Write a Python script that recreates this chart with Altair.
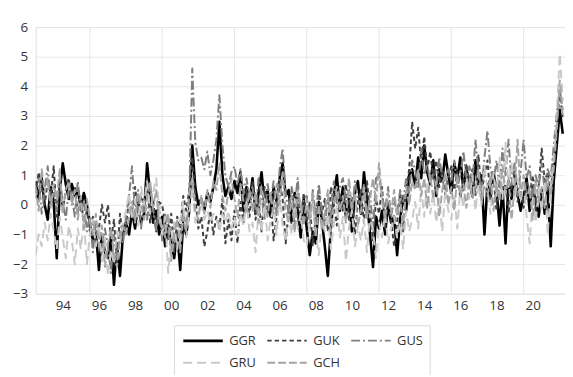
import altair as alt
import pandas as pd

series_names = ["GGR", "GUK", "GUS", "GRU", "GCH"]
series_colors = ["#000000", "#404040", "#7f7f7f", "#c9c9c9", "#a5a5a5"]
series_dashes = [[1, 0], [4.5, 3], [9, 3, 2, 3], [9, 5], [8, 3]]
series_widths = [2.6, 2, 2, 2, 2]

# bi-monthly readings, 1993.0 .. 2022.17 (6 per year)
GGR = [
    0.8, 0.2, 0.9, 0.0, -0.5, 0.6,
    0.1, -1.8, 0.5, 1.4, 0.7, 0.2,
    0.7, 0.3, 0.5, -0.1, 0.4, 0.0,
    -0.6, -1.2, -0.9, -2.2, -1.0, -1.6,
    -1.8, -1.1, -2.7, -1.3, -2.4, -1.0,
    -0.6, -1.0, -0.2, -0.8, 0.0, -0.6,
    -0.3, 1.4, 0.4, -0.6, -0.2, -1.0,
    -0.4, -1.4, -0.7, -1.3, -1.8, -0.9,
    -2.2, -0.6, -1.0, -0.2, 2.0, 0.6,
    0.0, 0.2, -0.2, 0.4, 0.1, 0.6,
    1.2, 2.8, 1.0, 0.3, 0.6, 0.2,
    0.8, 0.4, 1.1, -0.2, 0.6, 0.1,
    0.9, -0.3, 0.4, 1.1, 0.0, 0.5,
    -0.4, 0.6, 0.1, 0.9, 1.4, 0.3,
    0.5, -0.6, 0.4, -0.2, -1.1, 0.2,
    -0.8, -1.7, -0.9, -1.3, 0.1, -0.5,
    -1.4, -2.4, -0.8, 0.3, 1.0, -0.2,
    0.6, -0.4, 0.2, -0.9, 0.4, 0.8,
    -0.3, 1.1, 0.2, -1.0, -2.1, -0.4,
    -0.8, -0.2, -1.0, 0.0, -0.6, -0.4,
    -1.7, -0.5, 0.3, -0.2, 1.0, 1.2,
    0.6, 1.6, 0.9, 2.0, 1.1, 0.7,
    1.5, 0.3, 1.2, 0.8, 1.7, 1.0,
    0.4, 1.4, 0.9, 1.6, 0.5, 1.2,
    0.8, 0.3, 1.5, 0.6, 1.0, -1.0,
    0.7, 0.2, 1.1, 0.5, -0.7, 0.6,
    -1.3, 0.8, 0.2, 1.0, 0.4, -0.2,
    0.3, 0.9, -0.2, 0.6, 0.1, -0.4,
    0.5, -0.3, 0.6, -1.4, 0.8, 2.0,
    3.2, 2.4,
]
GUK = [
    0.4, 1.1, 0.6, 0.0, 0.8, 0.3,
    1.3, -0.4, 0.8, -0.2, 0.5, 0.9,
    0.1, 0.6, -0.3, 0.2, -0.6, -0.2,
    -0.9, -0.4, -1.4, -0.8, 0.0, -0.6,
    0.0, -1.2, -0.5, -2.0, -0.3, -1.1,
    -0.7, 0.2, -0.4, 0.6, -0.2, 0.3,
    0.0, 0.9, -0.6, 0.2, -0.9, 0.1,
    0.0, -0.6, -1.2, -0.3, -1.6, -0.4,
    -0.8, 0.3, -0.2, 0.5, 1.6, 0.3,
    -0.8, -0.4, -1.4, -0.9, -0.2, -1.0,
    -0.4, -0.8, 0.2, -1.3, -0.5, -1.2,
    -0.2, -1.3, 0.1, -0.6, 0.5, -0.4,
    0.8, -0.5, 0.2, -0.9, 0.6, -0.3,
    0.3, -1.2, -0.4, 0.8, 0.2, -1.3,
    -0.2, 0.5, -0.8, 0.3, -0.5, 0.4,
    -0.6, 0.1, -1.4, -0.4, 0.5, -0.3,
    0.2, -0.9, 0.6, 0.0, -0.7, 0.4,
    -0.2, 0.7, -0.5, 0.3, -1.0, 0.1,
    0.5, -0.6, 0.8, -0.3, -1.2, 0.2,
    -0.3, 0.6, -0.8, 0.1, -0.5, -1.4,
    -0.6, 0.4, -0.9, 0.5, 1.2, 2.8,
    1.9, 2.6, 1.4, 2.3, 1.2, 1.8,
    0.9, 1.5, 0.6, 1.2, 0.3, 0.9,
    1.3, 0.5, 1.1, 0.2, 0.8, 1.4,
    0.6, 1.2, 0.3, 1.7, 0.4, 1.0,
    1.5, 0.2, 0.9, -0.2, 0.8, 0.4,
    0.7, -0.3, 0.6, 1.2, 0.1, 0.5,
    -0.1, 0.8, 0.3, 1.0, -0.2, 0.6,
    1.9, 0.8, 1.1, 0.4, 1.6, 2.6,
    3.8, 2.9,
]
GUS = [
    0.2, 0.9, -0.3, 0.5, 1.3, 0.0,
    0.4, -0.2, 0.9, 0.1, -0.5, 0.6,
    0.3, -0.4, 0.8, -0.2, 0.1, -0.9,
    -0.4, -1.6, -0.6, -1.3, -1.7, -0.8,
    -1.4, -2.3, -1.0, -1.8, -0.9, -1.3,
    -0.4, 0.3, 1.3, -0.3, 0.5, -0.8,
    0.2, -0.5, 0.6, -0.2, -0.9, 0.0,
    -1.2, -0.3, -0.9, -1.6, -0.6, -1.4,
    -0.9, -0.2, -0.8, 0.3, 4.6, 2.1,
    1.5, 1.6, 1.2, 1.8, 1.0, 1.5,
    2.2, 3.7, 2.0, 1.0, 0.6, 1.1,
    1.3, 0.7, 1.2, 0.4, 0.9, 0.2,
    0.6, -0.2, 0.9, 0.3, -0.5, 0.7,
    0.1, 0.8, -0.4, 1.2, 1.9, 0.4,
    -0.3, 0.6, 0.0, 0.9, -0.6, 0.2,
    0.3, -0.8, 0.5, -0.4, 0.7, -0.2,
    -0.7, 0.2, -0.4, 0.8, 0.0, 0.6,
    0.9, 0.1, 0.5, -0.3, 0.8, 0.2,
    0.0, 0.7, -0.5, 0.4, -0.8, 0.9,
    1.0, 0.3, -0.2, 0.6, -0.4, 0.2,
    -0.3, 0.5, 0.1, 0.9, 0.4, 1.5,
    1.2, 0.6, 1.9, 1.0, 1.4, 0.7,
    1.1, 0.5, 1.6, 0.9, 0.4, 1.2,
    0.8, 1.5, 0.6, 1.0, 1.8, 0.9,
    1.3, 0.7, 2.2, 1.1, 0.5, 1.6,
    2.5, 1.2, 0.8, 1.5, 0.6, 1.9,
    1.0, 2.2, 0.7, 1.4, 0.3, 1.1,
    2.2, 0.9, 1.3, 0.2, 1.0, 0.6,
    1.4, 0.5, 1.2, 0.9, 2.0, 3.1,
    3.9, 3.2,
]
GRU = [
    -1.7, -1.0, -1.4, -0.6, -1.2, -0.3,
    -0.9, -1.5, -0.4, -1.1, -1.8, -0.7,
    -1.2, -2.0, -0.8, -1.5, -0.5, -2.0,
    -1.0, -0.5, -1.4, -0.7, -1.9, -1.1,
    -2.4, -1.5, -2.0, -0.9, -1.3, -0.6,
    -0.2, 0.4, -0.5, 0.2, -0.7, 0.6,
    0.0, 0.8, -0.3, 0.4, 0.9, -0.1,
    -1.0, -0.4, -2.3, -1.2, -0.6, -1.5,
    -0.5, 0.1, -1.1, -0.3, 0.6, -0.6,
    -0.3, 0.1, -0.5, -0.2, -0.6, -0.3,
    -0.4, -0.9, -0.3, -0.6, -0.2, -0.8,
    -0.4, -1.0, -0.3, -0.7, 0.1, -0.9,
    -0.6, -1.6, -0.2, -0.9, 0.2, -1.2,
    -0.5, -0.1, -1.0, 0.3, -0.7, -1.2,
    -0.4, -1.0, 0.2, -0.8, -0.3, -1.2,
    -1.4, -0.6, 0.1, -0.9, -1.7, -0.5,
    -0.9, -0.3, -1.5, -0.6, 0.0, -1.1,
    -0.4, -1.9, -0.8, -0.2, -1.4, -0.7,
    -1.2, -0.5, -1.6, -0.3, -0.9, -1.8,
    -0.6, -1.1, -0.3, -1.3, -0.8, -0.4,
    -1.1, -0.6, -1.5, -0.2, -0.9, -0.5,
    0.1, -0.8, 0.6, -0.4, 0.8, -0.3,
    0.4, -0.6, 0.2, -0.9, 0.5, -0.2,
    -0.5, 0.3, -0.8, 0.6, -0.1, 0.9,
    0.2, 1.0, -0.2, 0.7, 0.0, 1.3,
    0.5, -0.3, 1.1, 0.3, 1.6, 0.2,
    2.1, 0.6, 1.4, 0.2, 0.9, 0.1,
    0.7, -0.4, -1.3, 0.3, -0.6, 0.5,
    -0.2, 0.8, -1.0, 0.6, 1.5, 3.0,
    5.1, 3.5,
]
GCH = [
    0.6, -0.2, 1.2, 0.4, 0.9, -0.1,
    0.7, 0.2, 1.2, -0.3, 0.5, 0.8,
    0.0, 0.5, -0.5, 0.3, -0.8, 0.2,
    -0.5, -1.0, -0.3, -1.4, -0.7, -2.1,
    -1.3, -0.8, -1.7, -2.1, -1.1, -0.7,
    -1.0, -0.4, 0.1, -0.6, 0.4, 0.0,
    -0.5, 0.3, 0.8, -0.1, 0.5, -0.6,
    -0.7, -1.1, -0.3, -1.9, -1.0, -0.5,
    -1.6, -0.4, -0.9, 0.4, 0.9, -0.2,
    -0.5, 0.3, -0.3, 0.5, -0.1, 0.8,
    0.5, 1.4, 0.3, -0.2, 0.4, 0.9,
    0.2, -0.4, 0.7, 0.1, -0.3, 0.5,
    -0.2, 0.4, -0.6, 0.6, 0.1, -0.4,
    0.4, -0.3, 0.7, 0.0, 1.1, -0.2,
    -0.6, 0.3, -0.9, 0.5, 0.0, -0.7,
    0.2, -0.5, 0.4, -1.1, 0.0, -0.8,
    -0.3, 0.5, -0.9, 0.1, 0.6, -0.2,
    0.3, -0.6, 0.9, -0.1, 0.4, -0.7,
    -0.2, 0.6, -0.4, 0.2, 0.9, 0.1,
    1.4, 0.2, -0.5, 0.4, -0.3, 0.5,
    -0.4, 0.2, -0.8, 0.6, 0.0, 0.8,
    0.5, 1.2, 0.3, 0.9, -0.1, 1.0,
    0.2, 0.8, -0.4, 0.5, 1.1, 0.0,
    0.6, -0.2, 1.0, 0.3, 0.7, -0.1,
    0.9, 0.2, 0.5, 1.2, 0.1, 0.6,
    0.3, 1.0, -0.2, 0.7, 0.2, 1.3,
    0.4, 0.9, -0.5, 0.6, 2.2, 0.3,
    1.0, 0.2, 0.6, -0.5, 0.8, 0.1,
    0.6, -0.1, 0.9, 0.3, 1.2, 2.5,
    4.2, 3.0,
]

y_ticks = [-3, -2, -1, 0, 1, 2, 3, 4, 5, 6]
x_label_years = [1994, 1996, 1998, 2000, 2002, 2004, 2006, 2008, 2010, 2012, 2014, 2016, 2018, 2020]
x_grid_years = [1996, 2000, 2004, 2008, 2012, 2016, 2020]

rows = []
for name, vals in zip(series_names, [GGR, GUK, GUS, GRU, GCH]):
    for i, v in enumerate(vals):
        rows.append({"series": name, "year": 1993 + i / 6.0, "value": v,
                     "order": series_names.index(name)})
df = pd.DataFrame(rows)
grid_df = pd.DataFrame({"g": x_grid_years})

FONT = "Open Sans"
x_scale = alt.Scale(domain=[1993, 2022.29], nice=False, zero=False)

grid = alt.Chart(grid_df).mark_rule(color="#e6e6e6", strokeWidth=1).encode(
    x=alt.X("g:Q", scale=x_scale, title=None)
)

lines = alt.Chart(df).mark_line(clip=True, strokeJoin="round").encode(
    x=alt.X("year:Q", scale=x_scale, title=None,
            axis=alt.Axis(values=[y + 0.5 for y in x_label_years],
                          labelExpr="slice(toString(100 + floor(datum.value) % 100), 1)",
                          grid=False, domain=False, ticks=False,
                          labelPadding=5, labelFontSize=13.5, labelColor="#333333",
                          labelFont=FONT)),
    y=alt.Y("value:Q", scale=alt.Scale(domain=[-3, 6], nice=False), title=None,
            axis=alt.Axis(values=y_ticks, grid=True, gridColor="#e6e6e6", domain=False,
                          ticks=False, labelPadding=8, labelFontSize=13.5,
                          labelColor="#333333", labelFont=FONT)),
    color=alt.Color("series:N", sort=series_names,
                    scale=alt.Scale(domain=series_names, range=series_colors),
                    legend=alt.Legend(title=None, orient="none", legendX=140, legendY=302,
                                      columns=3, direction="horizontal",
                                      symbolType="M-0.75,0H4.25", symbolSize=256,
                                      labelOffset=31, columnPadding=6, rowPadding=6,
                                      padding=6, strokeColor="#d9d9d9", fillColor="white",
                                      labelFont=FONT, labelFontSize=13, labelColor="#333333",
                                      gridAlign="all")),
    strokeDash=alt.StrokeDash("series:N", sort=series_names,
                              scale=alt.Scale(domain=series_names, range=series_dashes),
                              legend=alt.Legend(title=None)),
    strokeWidth=alt.StrokeWidth("series:N", sort=series_names,
                                scale=alt.Scale(type="ordinal", domain=series_names, range=series_widths),
                                legend=alt.Legend(title=None)),
    order=alt.Order("order:Q"),
    detail="series:N",
)

chart = alt.layer(grid, lines).properties(
    width=536, height=270,
    autosize=alt.AutoSizeParams(type="none"),
    padding={"left": 28, "top": 17, "right": 0, "bottom": 80},
).configure_view(stroke=None).configure(font=FONT)

chart.save("out.html", embed_options={"renderer": "svg", "actions": False})
